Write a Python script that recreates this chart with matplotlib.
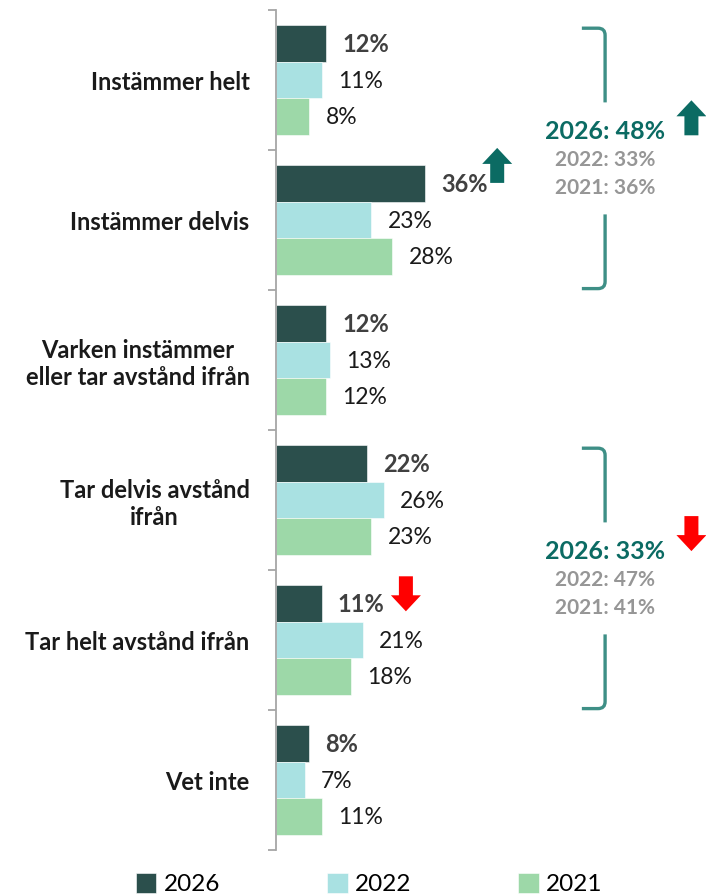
import matplotlib.pyplot as plt
import matplotlib.transforms as mtransforms
from matplotlib.patches import Polygon, PathPatch
from matplotlib.path import Path
import numpy as np

plt.rcParams.update({'font.family': ['Lato', 'DejaVu Sans']})

# Data
categories = ["Instämmer helt", "Instämmer delvis",
              "Varken instämmer\neller tar avstånd ifrån",
              "Tar delvis avstånd\nifrån", "Tar helt avstånd ifrån", "Vet inte"]
years = ["2026", "2022", "2021"]
values_2026 = [12, 36, 12, 22, 11, 8]
values_2022 = [11, 23, 13, 26, 21, 7]
values_2021 = [8, 28, 12, 23, 18, 11]

# summary brackets: (first category, last category, texts, trend)
group_agree = (0, 1, ["2026: 48%", "2022: 33%", "2021: 36%"], "up")
group_disagree = (3, 4, ["2026: 33%", "2022: 47%", "2021: 41%"], "down")

colors = ['#2B4F4C', '#A9E1E2', '#9DD8A8']
teal = '#0B6B63'
bracket_col = '#3E8F86'
red = '#FF0000'

W, H = 706, 894
fig = plt.figure(figsize=(W / 100, H / 100), dpi=100)
ax = fig.add_axes([276 / W, 44 / H, (W - 276) / W, 840 / H])

px_per_pct = 4.15
ax.set_xlim(0, (W - 276) / px_per_pct)
ax.set_ylim(len(categories), 0)

centers = np.arange(len(categories)) + 0.5
bh = 0.26
series = [values_2026, values_2022, values_2021]
bars = []
for i, (vals, col) in enumerate(zip(series, colors)):
    y = centers + (i - 1) * bh
    b = ax.barh(y, vals, height=bh, color=col, edgecolor='white', linewidth=0.4)
    bars.append(b)
    for yy, v in zip(y, vals):
        if i == 0:
            ax.text(v + 3.9, yy + 0.01, f"{v}%", va='center', ha='left',
                    fontsize=17, fontweight='bold', color='#404040')
        else:
            ax.text(v + 3.9, yy + 0.01, f"{v}%", va='center', ha='left',
                    fontsize=16.5, color='#1a1a1a')

# axis styling
for s in ['top', 'right', 'bottom']:
    ax.spines[s].set_visible(False)
ax.spines['left'].set_color('#A6A6A6')
ax.spines['left'].set_linewidth(1.3)
ax.set_xticks([])
ax.set_yticks(np.arange(len(categories) + 1))
ax.set_yticklabels([])
ax.tick_params(axis='y', which='major', length=6, width=1.3, color='#A6A6A6')
ax.set_yticks(centers, minor=True)
ax.set_yticklabels(categories, minor=True, fontsize=17, fontweight='bold',
                   color='#1a1a1a')
ax.tick_params(axis='y', which='minor', length=0, pad=19)
for lab in ax.get_yticklabels(minor=True):
    lab.set_multialignment('center')


def block_arrow(x, y, up, color, w=0.30, h=0.35, head=0.16, shaft=0.14):
    trans = fig.dpi_scale_trans + mtransforms.ScaledTranslation(x, y, ax.transData)
    s = 1 if up else -1
    verts = [(-shaft / 2, -s * h / 2), (shaft / 2, -s * h / 2),
             (shaft / 2, s * (h / 2 - head)), (w / 2, s * (h / 2 - head)),
             (0, s * h / 2), (-w / 2, s * (h / 2 - head)),
             (-shaft / 2, s * (h / 2 - head))]
    ax.add_patch(Polygon(verts, closed=True, transform=trans, facecolor=color,
                         edgecolor='none', clip_on=False))


# arrows next to single values
block_arrow(values_2026[1] + 17.3, centers[1] - bh - 0.13, True, teal)
block_arrow(values_2026[4] + 20.3, centers[4] - bh - 0.07, False, red)

# brackets with totals
xb, xh, r, ry = 79.3, 73.7, 1.7, 0.05
for first, last, texts, trend in [group_agree, group_disagree]:
    top = first + 0.13
    bot = last + 1 - 0.01
    mid = (top + bot) / 2
    verts = [(xh, top), (xb - r, top), (xb, top), (xb, top + ry), (xb, mid - 0.4),
             (xb, mid + 0.4), (xb, bot - ry), (xb, bot), (xb - r, bot), (xh, bot)]
    codes = [Path.MOVETO, Path.LINETO, Path.CURVE3, Path.CURVE3, Path.LINETO,
             Path.MOVETO, Path.LINETO, Path.CURVE3, Path.CURVE3, Path.LINETO]
    ax.add_patch(PathPatch(Path(verts, codes), facecolor='none', edgecolor=bracket_col,
                           linewidth=2.4, capstyle='butt', clip_on=False))
    ax.text(xb, mid - 0.19, texts[0], ha='center', va='center', fontsize=18,
            fontweight='bold', color=teal)
    ax.text(xb, mid + 0.015, texts[1], ha='center', va='center', fontsize=15,
            fontweight='bold', color='#969696')
    ax.text(xb, mid + 0.215, texts[2], ha='center', va='center', fontsize=15,
            fontweight='bold', color='#969696')
    if trend == 'up':
        block_arrow(100.1, mid - 0.29, True, teal)
    else:
        block_arrow(100.1, mid - 0.32, False, red)

fig.legend(handles=bars, labels=years, loc='lower center', bbox_to_anchor=(0.523, -0.026),
           ncol=3, frameon=False, fontsize=17.5, handlelength=0.85, handleheight=0.85,
           handletextpad=0.3, columnspacing=4.4)

fig.savefig('out.png', dpi=100)
